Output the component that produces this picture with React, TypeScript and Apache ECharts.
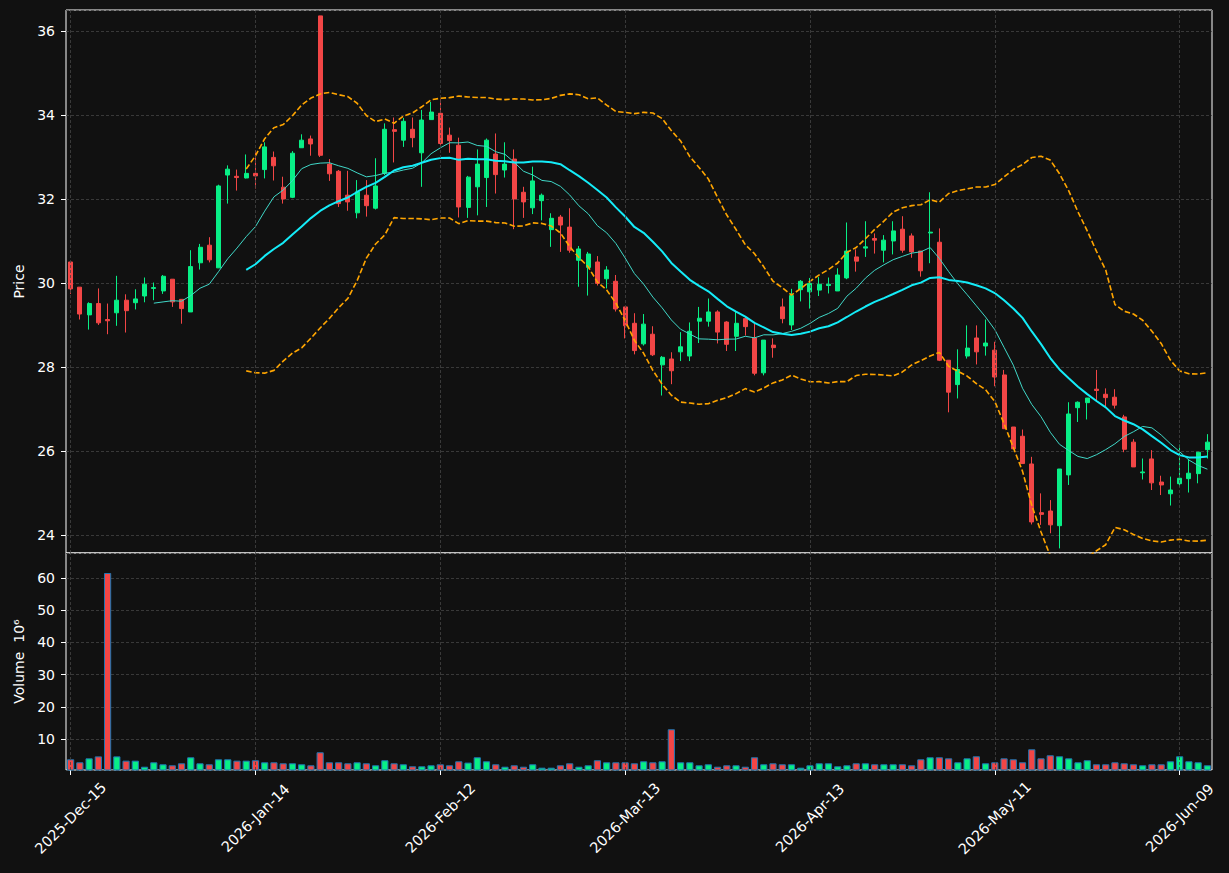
import React, { useEffect, useRef } from 'react';
import * as echarts from 'echarts';

// ---- calendar (trading days, weekends and exchange holidays skipped) ----
const START_DATE = [2025, 11, 15]; // 2025-Dec-15 (month 0-based)
const HOLIDAYS = ['2025-12-25', '2026-01-01', '2026-01-19', '2026-02-16', '2026-04-03', '2026-05-25'];
const MONTHS = ['Jan', 'Feb', 'Mar', 'Apr', 'May', 'Jun', 'Jul', 'Aug', 'Sep', 'Oct', 'Nov', 'Dec'];

// ---- OHLC ----
const opens = [
  30.51, 29.91, 29.25, 29.52, 29.14, 29.30, 29.60, 29.54, 29.70, 29.88,
  29.82, 30.10, 29.62, 29.32, 30.49, 30.91, 30.37, 32.58, 32.55, 32.51,
  32.62, 32.71, 33.00, 32.29, 32.05, 33.23, 33.44, 36.37, 32.84, 32.67,
  32.10, 31.68, 32.10, 31.79, 32.62, 33.66, 33.41, 33.67, 33.11, 33.90,
  34.05, 33.53, 33.29, 31.81, 32.30, 32.52, 33.08, 32.70, 32.96, 32.17,
  31.80, 31.97, 31.28, 31.58, 31.34, 30.55, 30.38, 30.51, 30.11, 30.05,
  29.44, 29.05, 28.56, 28.79, 28.06, 28.20, 28.37, 28.27, 29.10, 29.10,
  29.32, 29.08, 28.74, 29.16, 28.70, 27.87, 28.53, 29.44, 29.01, 29.85,
  29.80, 29.84, 29.95, 29.82, 30.13, 30.63, 30.84, 31.07, 30.79, 31.01,
  31.29, 31.13, 30.77, 31.20, 30.98, 28.17, 27.59, 28.27, 28.70, 28.51,
  28.41, 27.82, 26.58, 26.36, 25.70, 24.54, 24.58, 24.23, 25.44, 27.04,
  27.16, 27.48, 27.36, 27.29, 26.82, 26.22, 25.49, 25.82, 25.27, 24.99,
  25.23, 25.35, 25.47, 26.04,
];
const highs = [
  30.51, 29.91, 29.55, 29.88, 29.52, 30.18, 29.74, 29.86, 30.14, 30.02,
  30.20, 30.10, 29.62, 30.79, 30.94, 31.10, 32.35, 32.81, 32.71, 33.07,
  33.17, 33.36, 33.14, 32.54, 33.15, 33.55, 33.52, 36.37, 32.96, 32.70,
  32.68, 32.46, 32.46, 32.98, 33.81, 33.95, 33.94, 33.95, 34.13, 34.32,
  34.38, 33.71, 33.47, 32.56, 33.19, 33.45, 33.57, 33.36, 33.19, 32.30,
  32.78, 32.14, 31.67, 31.63, 31.79, 30.89, 30.75, 30.65, 30.41, 30.20,
  29.44, 29.29, 29.27, 28.98, 28.27, 28.36, 28.84, 29.07, 29.44, 29.64,
  29.36, 29.10, 29.32, 29.20, 29.05, 28.65, 28.69, 29.64, 29.87, 30.08,
  30.13, 30.15, 30.14, 30.36, 31.45, 30.81, 31.48, 31.19, 31.15, 31.48,
  31.60, 31.19, 30.77, 32.17, 31.31, 28.17, 28.43, 29.00, 29.00, 29.14,
  28.61, 27.94, 26.58, 26.52, 25.87, 25.00, 24.84, 25.58, 27.17, 27.19,
  27.27, 27.94, 27.50, 27.48, 26.87, 26.29, 25.83, 26.03, 25.42, 25.40,
  26.16, 25.81, 25.98, 26.41,
];
const lows = [
  29.75, 29.14, 28.90, 29.01, 28.79, 28.99, 28.83, 29.38, 29.55, 29.60,
  29.75, 29.44, 29.04, 29.32, 30.33, 30.50, 30.37, 31.90, 32.21, 32.50,
  32.26, 32.50, 32.45, 31.90, 32.03, 33.23, 33.04, 33.01, 32.44, 31.82,
  31.73, 31.55, 31.59, 31.76, 32.58, 32.88, 33.25, 33.24, 32.30, 33.90,
  33.30, 33.11, 31.57, 31.56, 31.62, 31.82, 32.14, 32.52, 31.29, 31.56,
  31.65, 31.50, 30.87, 30.75, 30.73, 29.92, 29.71, 29.95, 29.88, 29.33,
  28.69, 28.31, 28.52, 28.27, 27.33, 27.60, 28.15, 28.15, 28.58, 28.97,
  28.57, 28.39, 28.39, 28.76, 27.81, 27.81, 28.23, 29.05, 28.89, 29.57,
  29.40, 29.70, 29.76, 29.82, 30.10, 30.28, 30.63, 30.71, 30.50, 30.69,
  30.73, 30.61, 30.16, 30.48, 28.15, 26.93, 27.26, 28.21, 28.07, 28.28,
  27.55, 26.54, 26.06, 25.71, 24.26, 24.25, 24.05, 23.69, 25.20, 26.70,
  26.76, 27.22, 27.08, 27.02, 25.98, 25.63, 25.33, 25.08, 24.96, 24.71,
  25.16, 25.02, 25.24, 25.83,
];
const closes = [
  29.87, 29.27, 29.52, 29.06, 29.11, 29.60, 29.35, 29.63, 29.98, 29.90,
  30.17, 29.56, 29.40, 30.40, 30.86, 30.56, 32.32, 32.72, 32.52, 32.62,
  32.56, 33.25, 32.80, 32.01, 33.10, 33.41, 33.32, 33.05, 32.61, 31.90,
  31.94, 32.18, 31.85, 32.32, 33.67, 33.62, 33.86, 33.47, 33.89, 34.08,
  33.33, 33.40, 31.82, 32.53, 32.84, 33.41, 32.59, 32.84, 32.01, 31.94,
  32.44, 32.10, 31.55, 31.39, 30.79, 30.82, 30.70, 30.00, 30.32, 29.39,
  28.99, 28.40, 29.03, 28.30, 28.24, 27.92, 28.49, 28.86, 29.17, 29.32,
  28.84, 28.55, 29.05, 28.97, 27.86, 28.65, 28.47, 29.16, 29.71, 30.05,
  30.00, 29.98, 29.98, 30.20, 30.77, 30.53, 30.87, 31.03, 31.03, 31.25,
  30.79, 30.75, 30.30, 31.22, 28.17, 27.41, 27.95, 28.46, 28.37, 28.58,
  27.77, 26.54, 26.06, 25.71, 24.32, 24.50, 24.25, 25.58, 26.89, 27.17,
  27.27, 27.45, 27.28, 27.10, 26.05, 25.63, 25.51, 25.25, 25.20, 25.08,
  25.36, 25.48, 25.98, 26.22,
];
// ---- volume, in millions ----
const volumes = [
  3.8, 2.87, 4.1, 4.7, 61.5, 4.7, 3.37, 3.37, 1.5, 2.87,
  2.25, 1.94, 2.56, 4.42, 2.56, 2.25, 3.8, 3.8, 3.37, 3.37,
  3.5, 2.87, 2.87, 2.56, 2.56, 2.25, 1.94, 5.97, 2.87, 2.87,
  2.56, 2.87, 2.56, 1.94, 3.5, 2.56, 2.25, 1.63, 1.63, 1.94,
  2.25, 1.94, 3.18, 2.77, 4.42, 3.18, 2.25, 1.5, 1.94, 1.5,
  2.25, 1.2, 1.2, 1.94, 2.56, 1.5, 1.94, 3.5, 2.87, 2.87,
  2.87, 2.56, 3.18, 2.87, 3.18, 13.1, 2.87, 2.87, 1.94, 2.25,
  1.5, 1.94, 1.94, 1.5, 4.42, 2.25, 2.56, 2.25, 2.25, 1.2,
  1.94, 2.56, 2.56, 1.63, 1.94, 2.56, 2.56, 2.25, 2.25, 2.25,
  2.25, 1.94, 3.8, 4.42, 4.42, 4.1, 2.87, 4.1, 4.73, 2.56,
  2.87, 4.1, 3.8, 2.87, 6.9, 4.1, 5.04, 4.73, 4.1, 2.87,
  3.5, 2.25, 2.25, 2.87, 2.56, 2.25, 1.94, 2.25, 2.25, 3.18,
  4.73, 3.18, 2.87, 1.94,
];

const MA_SHORT = 10;
const MA_LONG = 20;
const BB_K = 2;
const TICK_EVERY = 20;

const UP = '#08ef86';
const DOWN = '#f24646';

function tradingDays(n: number): string[] {
  const out: string[] = [];
  const d = new Date(Date.UTC(START_DATE[0], START_DATE[1], START_DATE[2]));
  while (out.length < n) {
    const wd = d.getUTCDay();
    const iso = d.toISOString().slice(0, 10);
    if (wd !== 0 && wd !== 6 && HOLIDAYS.indexOf(iso) < 0) {
      const dd = String(d.getUTCDate()).padStart(2, '0');
      out.push(`${d.getUTCFullYear()}-${MONTHS[d.getUTCMonth()]}-${dd}`);
    }
    d.setUTCDate(d.getUTCDate() + 1);
  }
  return out;
}

function sma(vals: number[], n: number): (number | string)[] {
  return vals.map((_, i) => {
    if (i < n - 1) return '-';
    let s = 0;
    for (let j = i - n + 1; j <= i; j++) s += vals[j];
    return s / n;
  });
}

function band(vals: number[], n: number, k: number, sign: number): (number | string)[] {
  return vals.map((_, i) => {
    if (i < n - 1) return '-';
    let s = 0;
    for (let j = i - n + 1; j <= i; j++) s += vals[j];
    const m = s / n;
    let v = 0;
    for (let j = i - n + 1; j <= i; j++) v += (vals[j] - m) * (vals[j] - m);
    return m + sign * k * Math.sqrt(v / n);
  });
}

export default function App() {
  const ref = useRef<HTMLDivElement>(null);
  useEffect(() => {
    if (!ref.current) return;
    const chart = echarts.init(ref.current, null, { renderer: 'svg' });
    const dates = tradingDays(closes.length);
    const ohlc = closes.map((c, i) => [opens[i], c, lows[i], highs[i]]);
    const vol = volumes.map((v, i) => ({
      value: v,
      itemStyle: { color: closes[i] >= opens[i] ? UP : DOWN },
    }));
    const tickInt = (idx: number) => idx % TICK_EVERY === 0;
    const vLines = dates.filter((_, i) => i % TICK_EVERY === 0).map((d) => ({ xAxis: d }));
    const gridLine = { color: '#444', type: [3, 2], width: 0.8 };
    const empty = dates.map(() => '-');
    const font = 'DejaVu Sans';

    chart.setOption({
      animation: false,
      backgroundColor: '#111111',
      grid: [
        { left: 66, top: 10, width: 1146, height: 543, show: true, borderColor: '#ffffff', borderWidth: 1, backgroundColor: '#111111' },
        { left: 66, top: 553, width: 1146, height: 217, show: true, borderColor: '#ffffff', borderWidth: 1, backgroundColor: '#111111' },
      ],
      xAxis: [
        {
          type: 'category', gridIndex: 0, data: dates, boundaryGap: true,
          axisLine: { show: false }, axisTick: { show: false }, axisLabel: { show: false }, splitLine: { show: false },
        },
        {
          type: 'category', gridIndex: 1, data: dates, boundaryGap: true,
          axisLine: { show: false },
          axisTick: { show: true, alignWithLabel: true, interval: tickInt, length: 5, lineStyle: { color: '#ffffff' } },
          axisLabel: {
            interval: tickInt, rotate: 45, color: '#ffffff', fontSize: 14.5, fontFamily: font,
            margin: 48, align: 'center', verticalAlign: 'middle',
          },
          splitLine: { show: false },
        },
      ],
      yAxis: [
        {
          type: 'value', gridIndex: 0, min: 23.58, max: 36.51, splitNumber: 6,
          axisLine: { show: false },
          axisTick: { show: true, length: 5, lineStyle: { color: '#ffffff' } },
          axisLabel: { color: '#ffffff', fontSize: 14, fontFamily: font, margin: 11, showMinLabel: false, showMaxLabel: false },
          splitLine: { show: true, lineStyle: gridLine },
          name: 'Price', nameLocation: 'middle', nameGap: 37,
          nameTextStyle: { color: '#ffffff', fontSize: 14, fontFamily: font },
        },
        {
          type: 'value', gridIndex: 1, min: 0.48, max: 67.7, splitNumber: 6,
          axisLine: { show: false },
          axisTick: { show: true, length: 5, lineStyle: { color: '#ffffff' } },
          axisLabel: { color: '#ffffff', fontSize: 14, fontFamily: font, margin: 11, showMinLabel: false, showMaxLabel: false },
          splitLine: { show: true, lineStyle: gridLine },
          name: 'Volume  10⁶', nameLocation: 'middle', nameGap: 39,
          nameTextStyle: { color: '#ffffff', fontSize: 14, fontFamily: font },
        },
      ],
      series: [
        {
          type: 'line', xAxisIndex: 0, yAxisIndex: 0, data: empty, symbol: 'none', silent: true, z: 0,
          markLine: { silent: true, symbol: ['none', 'none'], label: { show: false }, lineStyle: gridLine, data: vLines },
        },
        {
          type: 'line', xAxisIndex: 1, yAxisIndex: 1, data: empty, symbol: 'none', silent: true, z: 0,
          markLine: { silent: true, symbol: ['none', 'none'], label: { show: false }, lineStyle: gridLine, data: vLines },
        },
        {
          name: 'Price', type: 'candlestick', xAxisIndex: 0, yAxisIndex: 0, data: ohlc, barWidth: 4.5, z: 2,
          itemStyle: { color: UP, color0: DOWN, borderColor: UP, borderColor0: DOWN, borderWidth: 1 },
        },
        {
          name: 'MA10', type: 'line', xAxisIndex: 0, yAxisIndex: 0, data: sma(closes, MA_SHORT),
          symbol: 'none', z: 3, lineStyle: { color: '#40d8c8', width: 1 },
        },
        {
          name: 'MA20', type: 'line', xAxisIndex: 0, yAxisIndex: 0, data: sma(closes, MA_LONG),
          symbol: 'none', z: 3, lineStyle: { color: '#14ecf8', width: 2 },
        },
        {
          name: 'BB upper', type: 'line', xAxisIndex: 0, yAxisIndex: 0, data: band(closes, MA_LONG, BB_K, 1),
          symbol: 'none', z: 3, clip: true, lineStyle: { color: '#ffa500', width: 1.6, type: [5.5, 2.5] },
        },
        {
          name: 'BB lower', type: 'line', xAxisIndex: 0, yAxisIndex: 0, data: band(closes, MA_LONG, BB_K, -1),
          symbol: 'none', z: 3, clip: true, lineStyle: { color: '#ffa500', width: 1.6, type: [5.5, 2.5] },
        },
        {
          name: 'Volume', type: 'bar', xAxisIndex: 1, yAxisIndex: 1, data: vol, barWidth: 7.2, z: 2,
          itemStyle: { borderColor: '#1f77b4', borderWidth: 1 },
        },
      ],
    });
    return () => chart.dispose();
  }, []);
  return <div ref={ref} style={{ position: 'absolute', left: 0, top: 0, width: 1229, height: 873 }} />;
}
